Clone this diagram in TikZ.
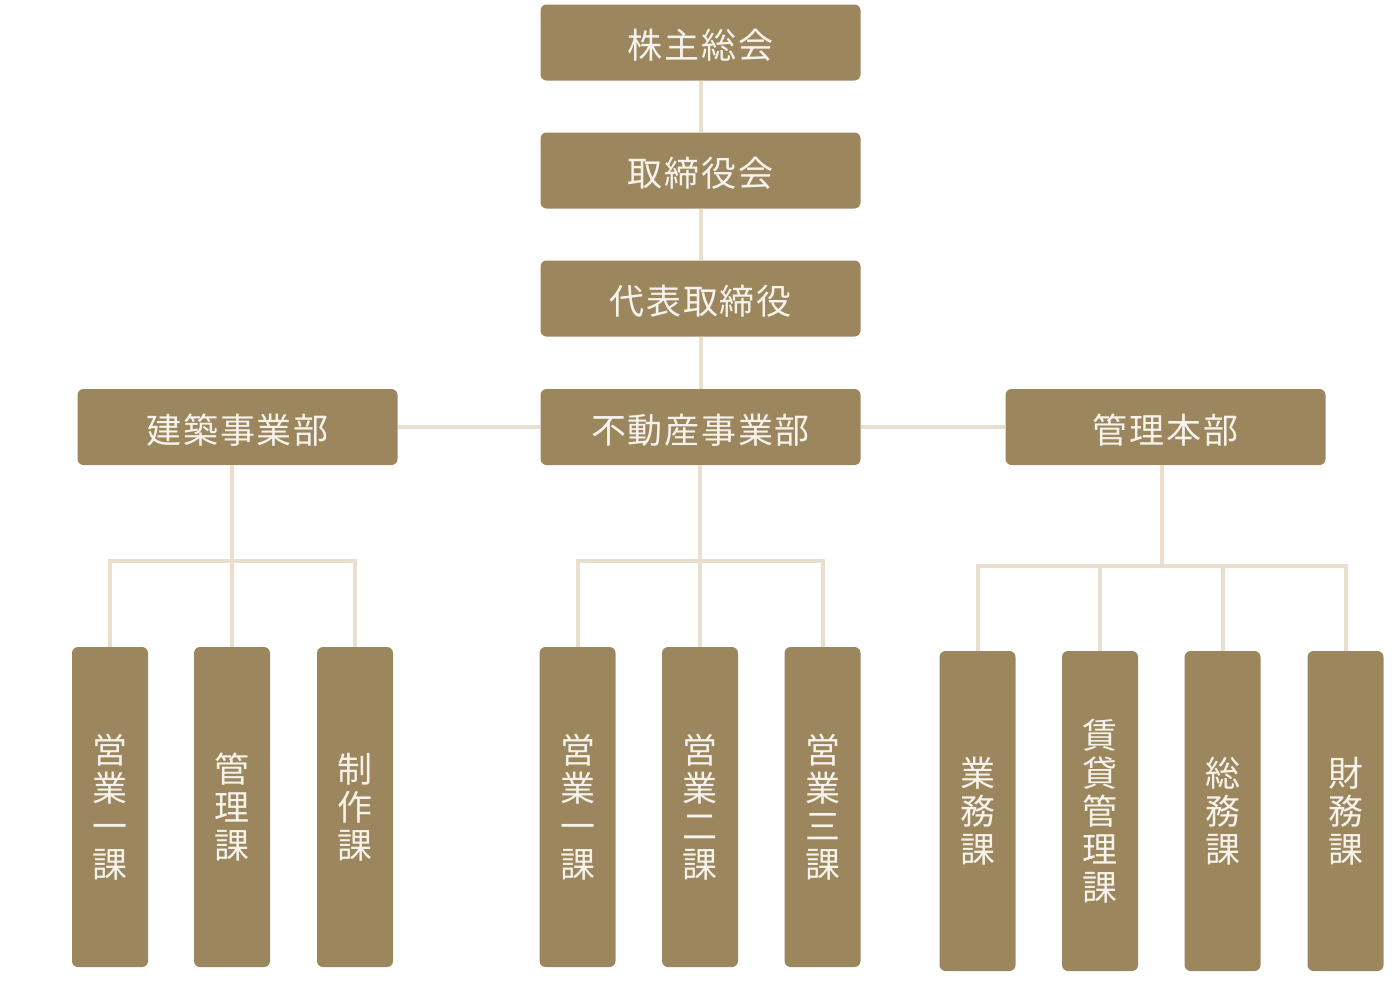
\documentclass[tikz,border=0pt]{standalone}
\usepackage{fontspec}
\setmainfont{Noto Sans CJK JP}
\newfontfamily\headfont[LetterSpace=5]{Noto Sans CJK JP}

\definecolor{boxbrown}{HTML}{9C865E}
\definecolor{linebeige}{HTML}{E8DFCE}
\definecolor{boxtext}{HTML}{F6F3EC}

\tikzset{
  headbox/.style={fill=boxbrown, text=boxtext, rounded corners=6pt, inner sep=0pt,
    text height=36pt, text depth=4pt,
    minimum width=320pt, minimum height=76pt, font=\headfont\fontsize{35}{38}\selectfont},
  unitbox/.style={fill=boxbrown, text=boxtext, rounded corners=6pt, inner sep=0pt,
    minimum width=76pt, minimum height=320pt, align=center, font=\fontsize{35}{38}\selectfont},
  link/.style={draw=linebeige, line width=4pt},
}

\begin{document}
\begin{tikzpicture}[x=1pt, y=-1pt]
        \useasboundingbox (0,0) rectangle (1400,980);

        % Top of the chart
        \node[headbox] (kabunushi) at (700.5,42.5) {株主総会};
        \node[headbox] (torishimari) at (700.5,170.5) {取締役会};
        \node[headbox] (daihyo) at (700.5,298.5) {代表取締役};

        % Divisions
        \node[headbox] (kenchiku) at (237.5,427) {建築事業部};
        \node[headbox] (fudosan) at (700.5,427) {不動産事業部};
        \node[headbox] (kanri) at (1165.5,427) {管理本部};

        % Sections under 建築事業部
        \node[unitbox] (k1) at (110,807) {営\\業\\一\\課};
        \node[unitbox] (k2) at (232,807) {管\\理\\課};
        \node[unitbox] (k3) at (355,807) {制\\作\\課};

        % Sections under 不動産事業部
        \node[unitbox] (f1) at (577.5,807) {営\\業\\一\\課};
        \node[unitbox] (f2) at (700,807) {営\\業\\二\\課};
        \node[unitbox] (f3) at (822.5,807) {営\\業\\三\\課};

        % Sections under 管理本部
        \node[unitbox] (m1) at (977.5,811) {業\\務\\課};
        \node[unitbox] (m2) at (1100,811) {賃\\貸\\管\\理\\課};
        \node[unitbox] (m3) at (1222.5,811) {総\\務\\課};
        \node[unitbox] (m4) at (1345.5,811) {財\\務\\課};

        % Main line
        \draw[link] (kabunushi) -- (torishimari);
        \draw[link] (torishimari) -- (daihyo);
        \draw[link] (daihyo) -- (fudosan);
        \draw[link] (kenchiku) -- (fudosan);
        \draw[link] (fudosan) -- (kanri);

        % Brackets
        \coordinate (kjoin) at (232,561);
        \coordinate (fjoin) at (700,561);
        \coordinate (mjoin) at (1161.5,566);

        \draw[link] (kenchiku.south -| kjoin) -- (kjoin);
        \draw[link] (k1.north) |- (kjoin) -| (k3.north);
        \draw[link] (kjoin) -- (k2.north);

        \draw[link] (fudosan.south -| fjoin) -- (fjoin);
        \draw[link] (f1.north) |- (fjoin) -| (f3.north);
        \draw[link] (fjoin) -- (f2.north);

        \draw[link] (kanri.south -| mjoin) -- (mjoin);
        \draw[link] (m1.north) |- (mjoin) -| (m4.north);
        \draw[link] (m2.north) |- (mjoin);
        \draw[link] (m3.north) |- (mjoin);
    \end{tikzpicture}
\end{document}
